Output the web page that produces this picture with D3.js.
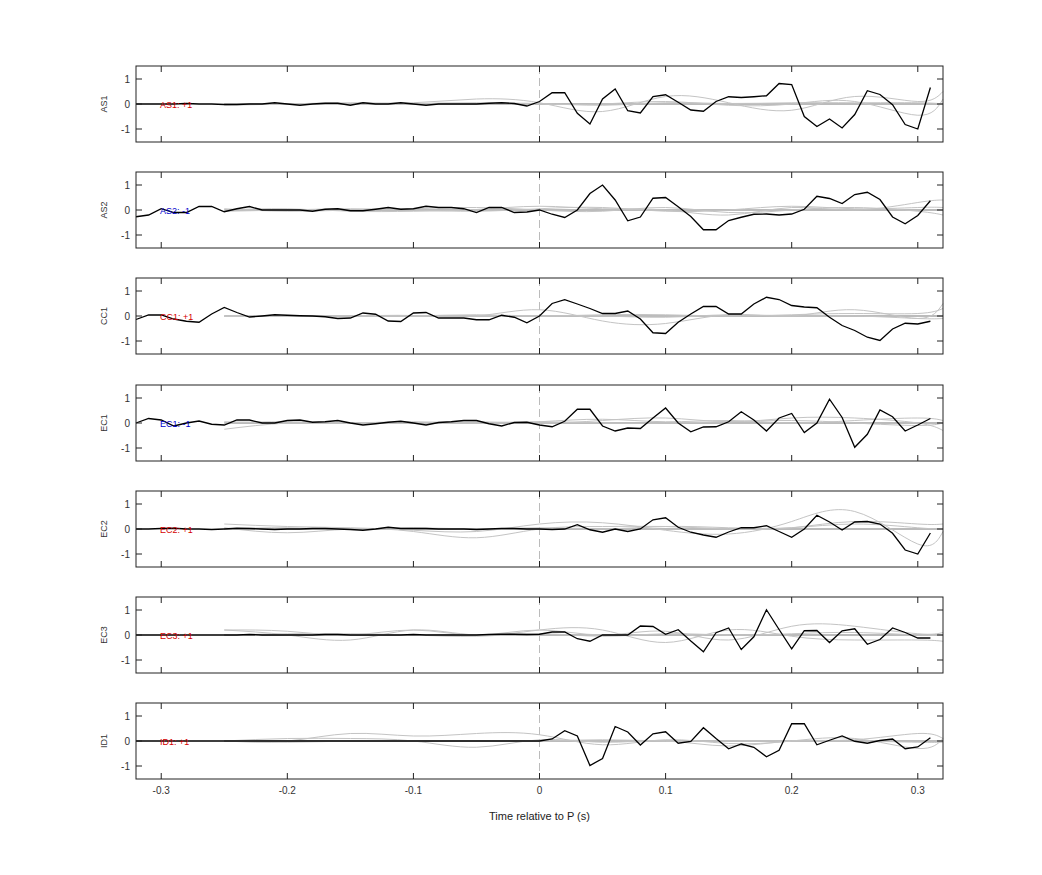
<!DOCTYPE html>
<html><head><meta charset="utf-8">
<script src="https://cdn.jsdelivr.net/npm/d3@7"></script>
<style>body{margin:0;background:#fff}text{font-family:"Liberation Sans",Arial,sans-serif}</style>
</head><body><svg id="c" width="1042" height="875"></svg>
<script>
const channels = ["AS1","AS2","CC1","EC1","EC2","EC3","ID1"];
const signs = ["+1","-1","+1","-1","+1","+1","+1"];
const times = d3.range(64).map(i => +(-0.32 + 0.01*i).toFixed(2));
const xTicks = [-0.3,-0.2,-0.1,0,0.1,0.2,0.3];
const yTicks = [-1,0,1];

const as1 = [0,0,0,0,0.02,0,0,-0.02,-0.02,0,0,0.05,0,-0.05,0,0.03,0.03,-0.05,0.05,0,0,0.05,0,-0.05,0,0,0,0,0.03,0.05,0.02,-0.08,
 0.1,0.45,0.45,-0.37,-0.8,0.2,0.6,-0.27,-0.36,0.3,0.37,0.07,-0.24,-0.29,0.1,0.29,0.26,0.29,0.33,0.82,0.78,-0.5,-0.9,-0.6,-0.96,-0.42,0.53,0.38,-0.03,-0.82,-1.0,0.66];
const as2 = [-0.27,-0.2,0.05,-0.1,-0.1,0.14,0.14,-0.07,0.05,0.14,0,0,0,0,-0.05,0.03,0.05,-0.03,-0.03,0.03,0.1,0.03,0.05,0.15,0.1,0.1,0.05,-0.1,0.1,0.1,-0.1,-0.08,
 0,-0.17,-0.3,0,0.66,1.0,0.4,-0.43,-0.28,0.47,0.5,0.13,-0.26,-0.79,-0.79,-0.42,-0.29,-0.17,-0.16,-0.2,-0.16,0.03,0.55,0.46,0.26,0.62,0.71,0.42,-0.28,-0.55,-0.22,0.37];
const cc1 = [-0.14,0.04,0.04,-0.12,-0.21,-0.25,0.08,0.34,0.14,-0.04,0,0.05,0.03,0.01,0,-0.03,-0.1,-0.08,0.12,0.07,-0.2,-0.22,0.12,0.14,-0.08,-0.08,-0.08,-0.15,-0.15,0.03,-0.05,-0.27,
 0,0.5,0.65,0.48,0.3,0.1,0.1,0.2,-0.12,-0.67,-0.7,-0.25,0.08,0.38,0.38,0.08,0.08,0.48,0.75,0.66,0.42,0.36,0.33,-0.05,-0.38,-0.58,-0.85,-0.98,-0.52,-0.29,-0.32,-0.21];
const ec1 = [0,0.18,0.12,-0.12,0,0.08,-0.05,-0.08,0.12,0.12,0,0,0.1,0.12,0.03,0.05,0.1,0,-0.08,-0.03,0.03,0.07,0,-0.08,0.02,0.05,0.1,0.1,-0.03,-0.12,0.02,0.03,
 -0.08,-0.15,0.07,0.55,0.55,-0.12,-0.32,-0.2,-0.22,0.2,0.6,0,-0.35,-0.16,-0.15,0.05,0.45,0.12,-0.32,0.2,0.38,-0.38,0,0.95,0.22,-0.97,-0.45,0.52,0.25,-0.32,-0.08,0.18];
const ec2 = [0,0,0.02,0.03,0,0,-0.02,0,0.03,0.02,0,-0.02,0,0,0.02,0.02,0,-0.02,-0.05,0,0.07,0.02,0.02,0.02,0,0,0,-0.02,0,0.02,0.02,0,
 0,-0.02,0,0.17,-0.03,-0.13,0,-0.1,0,0.37,0.45,0.07,-0.13,-0.24,-0.33,-0.12,0.05,0.05,0.13,-0.1,-0.33,0,0.55,0.28,-0.04,0.28,0.3,0.2,-0.17,-0.84,-1.0,-0.16];
const ec3 = [0,0,0,0,0,0,0,0,0,0.02,0,0,0,0,0,0.02,0.02,0,0,0,0,0,0.02,0,0,0,0,0,0.02,0.03,0.03,0.02,
 0.03,0.12,0.12,-0.15,-0.25,0,0,0,0.36,0.34,0.03,0.21,-0.24,-0.67,0.09,0.28,-0.58,-0.07,1.01,0.22,-0.55,0.17,0.18,-0.3,0.17,0.25,-0.37,-0.18,0.28,0.1,-0.12,-0.12];
const id1 = [0,0,0,0,0,0,0,0,0,0,0,0,0,0,0,0,0,0,0,0,0,0,0,0,0,0,0,0,0,0,0,0,
 0,0.08,0.41,0.2,-0.98,-0.7,0.58,0.36,-0.16,0.29,0.37,-0.09,-0.02,0.53,0.1,-0.31,-0.12,-0.25,-0.63,-0.37,0.69,0.69,-0.15,0.03,0.2,-0.01,-0.09,0.02,0.08,-0.31,-0.24,0.13];
const series = [as1,as2,cc1,ec1,ec2,ec3,id1];

const grayT = [-0.25,-0.2,-0.15,-0.1,-0.05,0,0.05,0.1,0.15,0.2,0.25,0.3,0.32];
const gray = [
 [[-0.05,0,0.05,0.05,0.2,0.05,-0.3,0.3,0.05,-0.25,0.3,0.1,0.5],[0,0,0,0.02,0.05,0,0,0.1,-0.05,0,0.1,-0.45,0.2],[0,0.02,0,0,0.02,0.02,-0.05,0.05,0.02,0.05,0.05,0.05,0]],
 [[0,0.05,-0.05,-0.05,0.02,0.15,0.05,0,-0.2,0.1,0,0.3,0.4],[-0.05,0,0.05,0,-0.05,0.05,0.1,-0.05,0,0.15,0.05,0.1,0.1],[0.05,-0.05,0,0.05,0.1,0,-0.05,0.1,-0.1,0,0.1,-0.05,-0.2]],
 [[0,0,0,0.02,0,0.25,-0.2,-0.3,0.05,0,0.25,-0.1,0.5],[0,0.02,0,0,0.05,0,0.05,0.05,0,0.05,0.1,0.1,0.3],[-0.02,0,0.02,0,0,0,0,-0.05,0.05,0,0,-0.1,-0.1]],
 [[-0.25,0,0.02,0,0.05,0,0.1,0.2,0.05,0.2,0.2,0,-0.3],[0.05,0,0,0.05,0,0.05,0.15,0.05,0.1,0,0.1,0.2,0.1],[0,0.05,0,0,0,0.05,0,0,0.05,0.1,0,-0.1,0]],
 [[0.2,0.1,0.05,-0.05,-0.1,0.2,0.25,-0.05,-0.2,0.3,0.7,-0.6,-0.1],[0.05,-0.15,0,-0.1,-0.35,0,0.1,0.1,0,0.05,0.3,0.2,0.2],[0,0.05,0,0.05,0,0.05,0,0.1,0.05,0.05,0.2,0.05,0]],
 [[0.2,0.15,0,0.2,0,0.2,0,0.15,-0.2,0.35,0.35,0.05,0.1],[0.2,0,-0.2,0.2,0,0.2,0.2,-0.3,0.2,-0.05,-0.2,-0.2,-0.25],[0,0.05,0.05,0,-0.05,0.05,-0.05,0.05,0,0.05,0.1,0,0]],
 [[0,0,0.3,0.2,0.3,0.25,-0.15,0.05,-0.1,0,0.1,-0.3,0.1],[0,0.1,0.1,0,-0.25,0.05,-0.05,0,-0.2,0,0.05,0.3,0.1],[0,-0.05,0,0,0,0,0.05,0,0,0,0,-0.05,-0.05]]
];

const svg = d3.select("#c");
const L = 136, R = 943, H = 76, tops = [66,172,278,385,491,597,703];
const x = d3.scaleLinear().domain([-0.32,0.32]).range([L,R]);
const y = d3.scaleLinear().domain([-1.52,1.52]);
const labelCol = {"+1":"#d40000","-1":"#0000cc"};

channels.forEach((ch,k) => {
  const top = tops[k];
  y.range([top+H, top]);
  const g = svg.append("g");
  // zero dashed
  g.append("line").attr("x1",x(0)).attr("x2",x(0)).attr("y1",top).attr("y2",top+H)
    .attr("stroke","#aaa").attr("stroke-dasharray","8,4").attr("stroke-width",0.8);
  const ln = d3.line().x(d=>x(d[0])).y(d=>y(d[1]));
  const gl = d3.line().x(d=>x(d[0])).y(d=>y(d[1])).curve(d3.curveNatural);
  // flat gray reference
  g.append("path").attr("d", ln([[-0.25,0],[0.32,0]])).attr("stroke","#bbb").attr("stroke-width",2).attr("fill","none");
  gray[k].forEach(arr => {
    g.append("path").attr("d", gl(grayT.map((t,i)=>[t,arr[i]]))).attr("stroke","#c4c4c4").attr("stroke-width",1).attr("fill","none");
  });
  g.append("path").attr("d", ln(times.map((t,i)=>[t,series[k][i]]))).attr("stroke","#000").attr("stroke-width",1.3).attr("fill","none");
  g.append("text").attr("x",160).attr("y",y(0)+3.5).attr("font-size",9).attr("fill",labelCol[signs[k]]).text(ch+": "+signs[k]);
  // frame
  g.append("rect").attr("x",L).attr("y",top).attr("width",R-L).attr("height",H).attr("fill","none").attr("stroke","#222").attr("stroke-width",1);
  const yt = g.append("g");
  yTicks.forEach(v => {
    yt.append("line").attr("x1",L).attr("x2",L+6).attr("y1",y(v)).attr("y2",y(v)).attr("stroke","#222");
    yt.append("line").attr("x1",R).attr("x2",R-6).attr("y1",y(v)).attr("y2",y(v)).attr("stroke","#222");
    yt.append("text").attr("x",L-6).attr("y",y(v)+4).attr("text-anchor","end").attr("font-size",10).attr("fill","#333").text(v);
  });
  xTicks.forEach(v => {
    g.append("line").attr("x1",x(v)).attr("x2",x(v)).attr("y1",top).attr("y2",top+6).attr("stroke","#222");
    g.append("line").attr("x1",x(v)).attr("x2",x(v)).attr("y1",top+H).attr("y2",top+H-6).attr("stroke","#222");
    if (k===6) g.append("text").attr("x",x(v)).attr("y",top+H+15).attr("text-anchor","middle").attr("font-size",10).attr("fill","#333").text(v);
  });
  g.append("text").attr("transform",`translate(107,${y(0)}) rotate(-90)`).attr("text-anchor","middle").attr("font-size",9).attr("fill","#333").text(ch);
});
svg.append("text").attr("x",x(0)).attr("y",820).attr("text-anchor","middle").attr("font-size",11).attr("fill","#222").text("Time relative to P (s)");
</script></body></html>
